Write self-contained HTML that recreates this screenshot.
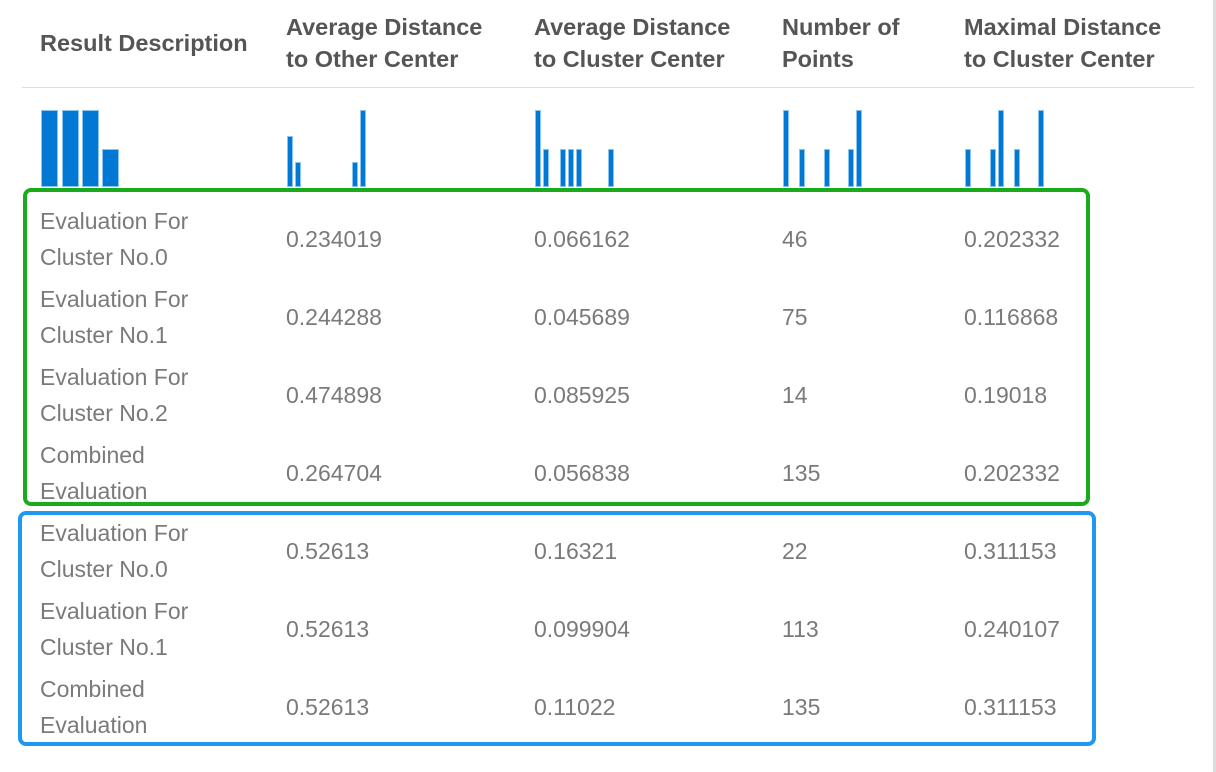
<!DOCTYPE html>
<html><head><style>
body{margin:0;width:1216px;height:772px;background:#fff;position:relative;overflow:hidden;font-family:"Liberation Sans",sans-serif}
.h{position:absolute;font-size:23.5px;font-weight:bold;color:#555;line-height:32px}
.t{position:absolute;font-size:23px;color:#7a7a7a;line-height:36px}
.b{position:absolute;background:#0078d4;border:1px solid #8cc4f0;box-sizing:border-box;bottom:585px}
</style></head><body>
<div class="h" style="left:40px;top:27px">Result Description</div>
<div class="h" style="left:286px;top:11px">Average Distance<br>to Other Center</div>
<div class="h" style="left:534px;top:11px">Average Distance<br>to Cluster Center</div>
<div class="h" style="left:782px;top:11px">Number of<br>Points</div>
<div class="h" style="left:964px;top:11px">Maximal Distance<br>to Cluster Center</div>
<div style="position:absolute;left:22px;top:87px;width:1172px;height:1px;background:#ddd"></div>
<div style="position:absolute;left:1213px;top:0;width:3px;height:772px;background:#ddd"></div>

<div class="b" style="left:41px;width:17px;height:77px"></div>
<div class="b" style="left:62px;width:17px;height:77px"></div>
<div class="b" style="left:82px;width:17px;height:77px"></div>
<div class="b" style="left:102px;width:17px;height:38px"></div>
<div class="b" style="left:287px;width:6px;height:51px"></div>
<div class="b" style="left:295px;width:6px;height:25px"></div>
<div class="b" style="left:352px;width:6px;height:25px"></div>
<div class="b" style="left:360px;width:6px;height:77px"></div>
<div class="b" style="left:535px;width:6px;height:77px"></div>
<div class="b" style="left:543px;width:6px;height:38px"></div>
<div class="b" style="left:560px;width:6px;height:38px"></div>
<div class="b" style="left:568px;width:6px;height:38px"></div>
<div class="b" style="left:576px;width:6px;height:38px"></div>
<div class="b" style="left:608px;width:6px;height:38px"></div>
<div class="b" style="left:783px;width:6px;height:77px"></div>
<div class="b" style="left:799px;width:6px;height:38px"></div>
<div class="b" style="left:824px;width:6px;height:38px"></div>
<div class="b" style="left:848px;width:6px;height:38px"></div>
<div class="b" style="left:856px;width:6px;height:77px"></div>
<div class="b" style="left:965px;width:6px;height:38px"></div>
<div class="b" style="left:990px;width:6px;height:38px"></div>
<div class="b" style="left:998px;width:6px;height:77px"></div>
<div class="b" style="left:1014px;width:6px;height:38px"></div>
<div class="b" style="left:1038px;width:6px;height:77px"></div>

<div style="position:absolute;left:23px;top:188px;width:1067px;height:318px;border:4px solid #1aab1a;border-radius:8px;box-sizing:border-box"></div>
<div style="position:absolute;left:18px;top:511px;width:1078px;height:235px;border:4px solid #1e98f0;border-radius:8px;box-sizing:border-box"></div>

<div class="t" style="left:40px;top:203px">Evaluation For<br>Cluster No.0</div>
<div class="t" style="left:286px;top:221px">0.234019</div><div class="t" style="left:534px;top:221px">0.066162</div><div class="t" style="left:782px;top:221px">46</div><div class="t" style="left:964px;top:221px">0.202332</div>
<div class="t" style="left:40px;top:281px">Evaluation For<br>Cluster No.1</div>
<div class="t" style="left:286px;top:299px">0.244288</div><div class="t" style="left:534px;top:299px">0.045689</div><div class="t" style="left:782px;top:299px">75</div><div class="t" style="left:964px;top:299px">0.116868</div>
<div class="t" style="left:40px;top:359px">Evaluation For<br>Cluster No.2</div>
<div class="t" style="left:286px;top:377px">0.474898</div><div class="t" style="left:534px;top:377px">0.085925</div><div class="t" style="left:782px;top:377px">14</div><div class="t" style="left:964px;top:377px">0.19018</div>
<div class="t" style="left:40px;top:437px">Combined<br>Evaluation</div>
<div class="t" style="left:286px;top:455px">0.264704</div><div class="t" style="left:534px;top:455px">0.056838</div><div class="t" style="left:782px;top:455px">135</div><div class="t" style="left:964px;top:455px">0.202332</div>
<div class="t" style="left:40px;top:515px">Evaluation For<br>Cluster No.0</div>
<div class="t" style="left:286px;top:533px">0.52613</div><div class="t" style="left:534px;top:533px">0.16321</div><div class="t" style="left:782px;top:533px">22</div><div class="t" style="left:964px;top:533px">0.311153</div>
<div class="t" style="left:40px;top:593px">Evaluation For<br>Cluster No.1</div>
<div class="t" style="left:286px;top:611px">0.52613</div><div class="t" style="left:534px;top:611px">0.099904</div><div class="t" style="left:782px;top:611px">113</div><div class="t" style="left:964px;top:611px">0.240107</div>
<div class="t" style="left:40px;top:671px">Combined<br>Evaluation</div>
<div class="t" style="left:286px;top:689px">0.52613</div><div class="t" style="left:534px;top:689px">0.11022</div><div class="t" style="left:782px;top:689px">135</div><div class="t" style="left:964px;top:689px">0.311153</div>
</body></html>
